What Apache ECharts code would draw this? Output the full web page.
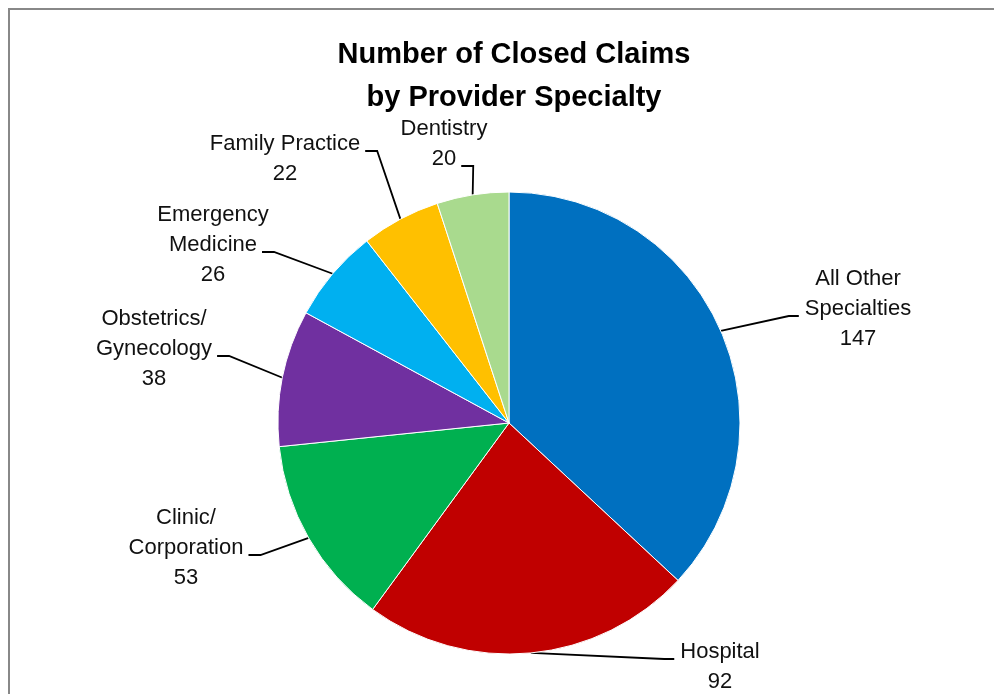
<!DOCTYPE html>
<html>
<head>
<meta charset="utf-8">
<script src="https://cdn.jsdelivr.net/npm/echarts@6/dist/echarts.min.js"></script>
<style>
  html, body { margin: 0; padding: 0; background: #fff; }
  #chart { width: 994px; height: 694px; }
</style>
</head>
<body>
<div id="chart"></div>
<script>
// data
var specialties = ['All Other\nSpecialties', 'Hospital', 'Clinic/\nCorporation', 'Obstetrics/\nGynecology', 'Emergency\nMedicine', 'Family Practice', 'Dentistry'];
var claims = [147, 92, 53, 38, 26, 22, 20];
var sliceColors = ['#0070C0', '#C00000', '#00B050', '#7030A0', '#00B0F0', '#FFC000', '#A9DA8E'];

// label block centres and which text row the leader line meets
var labelCenter = [[858, 309], [720, 667], [186, 548], [154, 349], [213, 245], [285, 159], [444, 144]];
var lineRow = [1, 0, 1, 1, 1, 0, 1];
var lineH = 30;
var labelFont = '22px "Liberation Sans"';

// width of one text row of a label
var ctx = document.createElement('canvas').getContext('2d');
ctx.font = labelFont;
function rowWidth(i) {
    var rows = (specialties[i] + '\n' + claims[i]).split('\n');
    return ctx.measureText(rows[lineRow[i]]).width;
}

var chart = echarts.init(document.getElementById('chart'));

chart.setOption({
    animation: false,
    title: {
        text: 'Number of Closed Claims\nby Provider Specialty',
        left: 509,
        top: 28,
        textAlign: 'center',
        textStyle: {
            fontFamily: 'Liberation Sans',
            fontWeight: 'bold',
            fontSize: 29,
            lineHeight: 43,
            color: '#000'
        }
    },
    graphic: [{
        type: 'rect',
        shape: { x: 9, y: 9, width: 1000, height: 700 },
        style: { fill: null, stroke: '#888', lineWidth: 2 }
    }],
    series: [{
        type: 'pie',
        center: [509, 423],
        radius: 231,
        startAngle: 90,
        clockwise: true,
        data: specialties.map(function (name, i) {
            return { name: name, value: claims[i], itemStyle: { color: sliceColors[i] } };
        }),
        itemStyle: { borderColor: '#fff', borderWidth: 1 },
        label: {
            formatter: '{b}\n{c}',
            fontFamily: 'Liberation Sans',
            fontSize: 22,
            lineHeight: lineH,
            color: '#111',
            align: 'center'
        },
        labelLine: {
            show: true,
            length: 20,
            length2: 10,
            lineStyle: { color: '#000', width: 1.8 }
        },
        labelLayout: function (params) {
            var i = params.dataIndex;
            var c = labelCenter[i];
            var w = rowWidth(i);
            var h = params.labelRect.height;
            var top = c[1] - h / 2;
            var y = top + lineH * (lineRow[i] + 0.5) + 7;
            var p0 = params.labelLinePoints[0];
            var onRight = c[0] > 509;
            var endX = onRight ? c[0] - w / 2 - 6 : c[0] + w / 2 + 5;
            var elbowX = onRight ? endX - 10 : endX + 12;
            return {
                x: c[0],
                y: c[1],
                align: 'center',
                verticalAlign: 'middle',
                labelLinePoints: [p0, [elbowX, y], [endX, y]]
            };
        }
    }]
});
</script>
</body>
</html>
